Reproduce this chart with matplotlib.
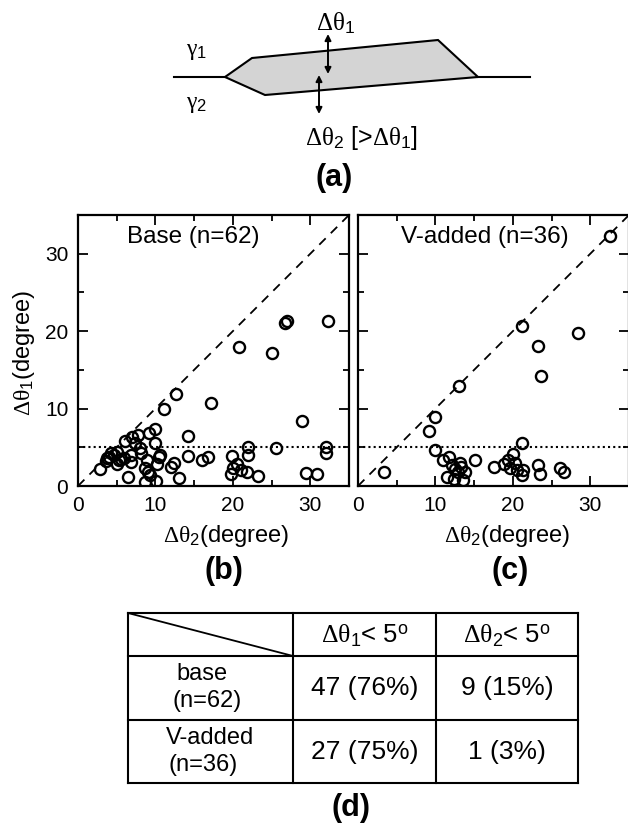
import matplotlib
matplotlib.use("Agg")
import matplotlib.pyplot as plt
from matplotlib.patches import Polygon
from matplotlib.ticker import MultipleLocator

plt.rcParams['font.family'] = ['Liberation Sans', 'DejaVu Sans']
plt.rcParams['mathtext.fontset'] = 'custom'
plt.rcParams['mathtext.rm'] = 'Liberation Serif'
plt.rcParams['mathtext.it'] = 'Liberation Serif'
plt.rcParams['mathtext.sf'] = 'Liberation Sans'
plt.rcParams['mathtext.bf'] = 'Liberation Sans:bold'
plt.rcParams['mathtext.default'] = 'rm'

# ---------------- data ----------------
base_d2 = [26.7, 27.0, 32.3, 20.8, 25.0, 12.7, 11.1, 17.2, 28.9, 32.0, 32.0, 25.6, 21.9, 21.9,
           14.2, 14.2, 16.0, 16.8, 19.9, 20.0, 21.1, 21.8, 23.3, 29.5, 30.9, 19.8,
           2.9, 3.7, 4.0, 4.3, 5.0, 5.1, 6.1, 6.5, 6.9, 6.9, 7.7, 8.0, 8.2, 8.6, 8.6,
           9.2, 9.9, 10.0, 10.4, 10.2, 9.3, 10.1, 12.0, 12.4, 13.0,
           4.6, 5.5, 3.6, 7.0, 6.0, 7.3, 8.9, 10.6, 20.5, 9.0, 5.3]
base_d1 = [21.0, 21.3, 21.3, 18.0, 17.2, 11.9, 10.0, 10.7, 8.4, 5.1, 4.3, 4.9, 5.0, 4.0,
           6.4, 3.9, 3.4, 3.8, 3.9, 2.3, 2.1, 1.8, 1.3, 1.7, 1.5, 1.6,
           2.2, 3.6, 3.7, 4.3, 4.4, 2.9, 5.8, 1.2, 4.0, 3.1, 6.6, 4.9, 4.2, 2.3, 0.5,
           6.9, 7.4, 5.5, 3.7, 2.8, 1.4, 0.6, 2.4, 3.0, 1.0,
           4.0, 3.5, 3.2, 6.3, 3.6, 5.5, 3.3, 4.0, 2.8, 1.8, 3.3]

vadd_d2 = [32.6, 21.2, 28.4, 23.2, 23.6, 13.0, 10.0, 9.2, 21.2, 9.9, 3.3, 11.0, 11.7, 12.1,
           13.2, 12.9, 13.8, 12.4, 13.6, 15.1, 17.5, 18.8, 19.4, 20.0, 19.6, 20.5, 21.3,
           21.2, 23.3, 23.5, 26.1, 26.6, 12.5, 20.3, 11.5, 13.3]
vadd_d1 = [32.3, 20.6, 19.8, 18.1, 14.2, 12.9, 8.9, 7.1, 5.6, 4.6, 1.8, 3.4, 3.8, 2.7,
           3.0, 1.8, 1.8, 0.9, 0.8, 3.4, 2.5, 2.8, 3.4, 4.1, 2.3, 2.1, 2.1,
           1.4, 2.7, 1.6, 2.3, 1.8, 2.2, 3.0, 1.2, 2.4]

panel_titles = ["Base (n=62)", "V-added (n=36)"]
threshold = 5
axis_max = 35
major_ticks = [0, 10, 20, 30]

D1 = r"$\Delta\theta_{\mathsf{1}}$"
D2 = r"$\Delta\theta_{\mathsf{2}}$"
row_labels = [["base", "(n=62)"], ["V-added", "(n=36)"]]
col_labels = [D1 + r"< 5$^{\mathsf{o}}$", D2 + r"< 5$^{\mathsf{o}}$"]
cell_text = [["47 (76%)", "9 (15%)"], ["27 (75%)", "1 (3%)"]]

W, H = 628, 825
fig = plt.figure(figsize=(W / 100, H / 100), dpi=100)

def fx(x):
    return x / W

def fy(y):
    return 1 - y / H

# overlay axes in pixel coordinates for schematic and table
ov = fig.add_axes([0, 0, 1, 1])
ov.set_xlim(0, W)
ov.set_ylim(H, 0)
ov.axis('off')
ov.patch.set_alpha(0)

# ---------------- (a) schematic ----------------
ov.plot([174, 225], [77, 77], color='k', lw=1.5)
ov.plot([478, 530], [77, 77], color='k', lw=1.5)
poly = Polygon([[225, 77], [252, 58], [438, 40], [478, 77], [265, 95]], closed=True,
               facecolor='#d4d4d4', edgecolor='k', lw=1.5)
ov.add_patch(poly)
ov.annotate('', xy=(328, 34), xytext=(328, 74),
            arrowprops=dict(arrowstyle='<|-|>', color='k', lw=1.4, mutation_scale=9,
                            shrinkA=0, shrinkB=0))
ov.annotate('', xy=(319, 75), xytext=(319, 114),
            arrowprops=dict(arrowstyle='<|-|>', color='k', lw=1.4, mutation_scale=9,
                            shrinkA=0, shrinkB=0))
ov.text(336, 23, D1, fontsize=18, ha='center', va='center')
ov.text(197, 51, r"$\gamma_{\mathsf{1}}$", fontsize=17, ha='center', va='center')
ov.text(197, 104, r"$\gamma_{\mathsf{2}}$", fontsize=17, ha='center', va='center')
ov.text(305, 138, D2 + " [>" + D1 + "]", fontsize=18, ha='left', va='center')
ov.text(334, 178, "(a)", fontsize=22, fontweight='bold', ha='center', va='center')

# ---------------- (b), (c) scatter panels ----------------
panel_px = [(78, 215, 349, 486), (358, 215, 629, 486)]
datasets = [(base_d2, base_d1), (vadd_d2, vadd_d1)]
title_pos = [193, 485]
xlabel_pos = [226, 507]
letter_pos = [224, 510]
letters = ["(b)", "(c)"]

for i, ((l, t, r, b), (xd, yd)) in enumerate(zip(panel_px, datasets)):
    ax = fig.add_axes([fx(l), fy(b), (r - l) / W, (b - t) / H])
    ax.plot([0, axis_max], [0, axis_max], color='k', lw=1.3, ls=(0, (5, 4)))
    ax.axhline(threshold, color='k', lw=1.5, ls=(0, (1, 1.5)))
    ax.plot(xd, yd, 'o', mfc='none', mec='k', ms=8, mew=1.7, zorder=3)
    ax.set_xlim(0, axis_max)
    ax.set_ylim(0, axis_max)
    ax.set_xticks(major_ticks)
    ax.set_yticks(major_ticks)
    ax.xaxis.set_minor_locator(MultipleLocator(5))
    ax.yaxis.set_minor_locator(MultipleLocator(5))
    ax.tick_params(which='both', direction='in', top=True, right=True, width=1.3)
    ax.tick_params(which='major', length=7, labelsize=15, pad=7)
    ax.tick_params(which='minor', length=4)
    if i == 1:
        ax.tick_params(labelleft=False)
    for s in ax.spines.values():
        s.set_linewidth(1.6)
    fig.text(fx(title_pos[i]), fy(237), panel_titles[i], fontsize=17.5, ha='center', va='center')
    fig.text(fx(xlabel_pos[i]), fy(536), D2 + "(degree)", fontsize=17,
             ha='center', va='center')
    fig.text(fx(letter_pos[i]), fy(571), letters[i], fontsize=22, fontweight='bold',
             ha='center', va='center')

fig.text(fx(24), fy(353), D1 + "(degree)", fontsize=17, rotation=90,
         ha='center', va='center')

# ---------------- (d) table ----------------
tx = [128, 293, 436, 578]
ty = [613, 656, 720, 783]
for y in ty:
    ov.plot([tx[0], tx[-1]], [y, y], color='k', lw=1.5)
for x in tx:
    ov.plot([x, x], [ty[0], ty[-1]], color='k', lw=1.5)
ov.plot([tx[0], tx[1]], [ty[0], ty[1]], color='k', lw=1.3)

for j, lab in enumerate(col_labels):
    ov.text((tx[j + 1] + tx[j + 2]) / 2, (ty[0] + ty[1]) / 2 + 1, lab, fontsize=18.5,
            ha='center', va='center')

row_text_x = [[176, 172], [166, 168]]
for i, lines in enumerate(row_labels):
    yc = (ty[i + 1] + ty[i + 2]) / 2
    ov.text(row_text_x[i][0], yc - 14, lines[0], fontsize=17, ha='left', va='center')
    ov.text(row_text_x[i][1], yc + 13, lines[1], fontsize=17, ha='left', va='center')
    for j in range(2):
        ov.text((tx[j + 1] + tx[j + 2]) / 2, yc, cell_text[i][j],
                fontsize=19, ha='center', va='center')

ov.text(351, 808, "(d)", fontsize=22, fontweight='bold', ha='center', va='center')

fig.savefig("out.png", dpi=100)
